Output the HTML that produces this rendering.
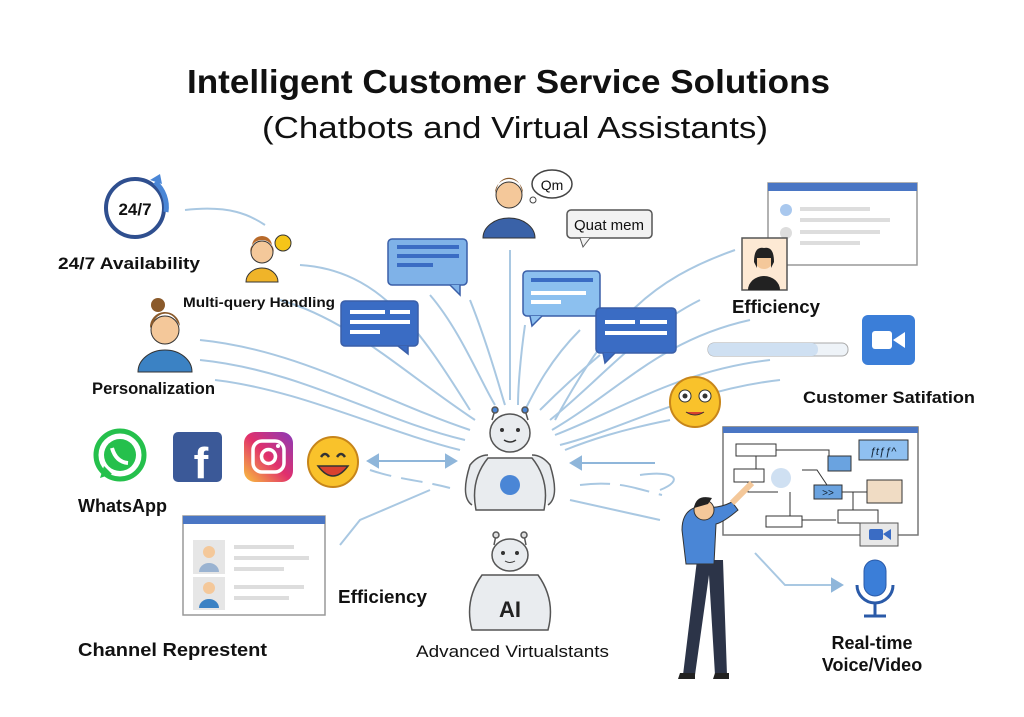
<!DOCTYPE html>
<html><head><meta charset="utf-8"><style>
html,body{margin:0;padding:0;background:#fff;}
svg{display:block;font-family:"Liberation Sans",sans-serif;}
.t{font-weight:bold;fill:#111;}
</style></head><body>
<svg width="1024" height="717" viewBox="0 0 1024 717" xmlns="http://www.w3.org/2000/svg">
<rect width="1024" height="717" fill="#fff"/>
<text x="187" y="93" font-size="33" font-weight="bold" fill="#111" textLength="643" lengthAdjust="spacingAndGlyphs">Intelligent Customer Service Solutions</text>
<text x="262" y="138" font-size="31" fill="#111" textLength="506" lengthAdjust="spacingAndGlyphs">(Chatbots and Virtual Assistants)</text>

<!-- connector lines -->
<g fill="none" stroke="#a9c8e2" stroke-width="2">
<path d="M185 210 C230 205,250 215,265 225"/>
<path d="M300 265 C380 270,420 330,470 410"/>
<path d="M280 300 C350 320,400 370,475 420"/>
<path d="M200 340 C300 350,380 400,470 430"/>
<path d="M200 360 C300 370,380 420,465 440"/>
<path d="M215 380 C300 390,380 430,460 450"/>
<path d="M430 295 C460 330,480 380,495 405"/>
<path d="M470 300 C490 350,500 390,505 405"/>
<path d="M510 250 L510 400"/>
<path d="M525 325 C520 360,518 390,518 405"/>
<path d="M580 330 C550 360,535 390,525 410"/>
<path d="M600 355 C570 380,550 400,540 410"/>
<path d="M735 250 C650 280,610 320,555 420"/>
<path d="M700 300 C640 330,600 380,550 420"/>
<path d="M750 320 C660 340,620 390,552 430"/>
<path d="M770 360 C680 370,620 410,555 435"/>
<path d="M780 380 C690 390,620 430,560 445"/>
<path d="M670 420 C620 430,590 440,565 450"/>
<path d="M370 470 C400 480,420 480,450 488" stroke-dasharray="22 10"/>
<path d="M430 490 L360 520 L340 545"/>
<path d="M580 485 C620 480,640 490,662 495" stroke-dasharray="30 10"/>
<path d="M570 500 L660 520"/>
<path d="M755 553 L785 585 L838 585"/>
<path d="M640 475 C675 470,685 480,660 490"/>
</g>
<g stroke="#8fb6da" stroke-width="2" fill="#8fb6da">
<line x1="372" y1="461" x2="452" y2="461"/>
<path d="M368 461 l10 -6 v12z"/><path d="M456 461 l-10 -6 v12z"/>
<line x1="575" y1="463" x2="655" y2="463"/>
<path d="M571 463 l10 -6 v12z"/>
<path d="M842 585 l-10 -6 v12z"/>
</g>

<!-- clock -->
<circle cx="135" cy="208" r="29" fill="#fff" stroke="#2f4f8f" stroke-width="4"/>
<path d="M155 182 A33 33 0 0 1 166 212" fill="none" stroke="#4a86d6" stroke-width="5"/>
<path d="M150 180 l10 -6 l2 10z" fill="#4a86d6"/>
<text x="135" y="215" text-anchor="middle" font-size="17" font-weight="bold" fill="#111">24/7</text>
<text x="58" y="269" font-size="17" class="t" textLength="142" lengthAdjust="spacingAndGlyphs">24/7 Availability</text>

<!-- girl -->
<circle cx="262" cy="252" r="11" fill="#f4c89a" stroke="#333"/>
<path d="M250 252 a12 12 0 0 1 24 0 l-2 -6 a10 10 0 0 0 -20 0z" fill="#b86a2a"/>
<path d="M246 282 a16 14 0 0 1 32 0z" fill="#f0b429" stroke="#333"/>
<circle cx="283" cy="243" r="8" fill="#f5c518" stroke="#333"/>
<text x="183" y="307" font-size="14" class="t" textLength="152" lengthAdjust="spacingAndGlyphs">Multi-query Handling</text>

<!-- woman -->
<circle cx="165" cy="330" r="14" fill="#f4c89a" stroke="#333"/>
<path d="M150 328 a15 15 0 0 1 30 -2 l-4 -6 a12 12 0 0 0 -22 2z" fill="#8a5a2b"/>
<circle cx="158" cy="305" r="7" fill="#8a5a2b"/>
<path d="M138 372 a27 22 0 0 1 54 0z" fill="#3b82c4" stroke="#333"/>
<text x="92" y="394" font-size="17" class="t" textLength="123" lengthAdjust="spacingAndGlyphs">Personalization</text>

<!-- social icons -->
<circle cx="120" cy="455" r="24" fill="#fff" stroke="#25c04c" stroke-width="5"/>
<path d="M100 478 l4 -12 l8 8z" fill="#25c04c"/>
<circle cx="120" cy="455" r="16" fill="#25c04c"/>
<path d="M112 448 q4 14 16 15" stroke="#fff" stroke-width="4" fill="none"/>
<rect x="173" y="432" width="49" height="50" rx="5" fill="#3b5998"/>
<text x="201" y="478" text-anchor="middle" font-size="44" font-weight="bold" fill="#fff">f</text>
<defs><linearGradient id="ig" x1="0" y1="1" x2="1" y2="0"><stop offset="0" stop-color="#f9c23c"/><stop offset=".5" stop-color="#e1306c"/><stop offset="1" stop-color="#8a3ab9"/></linearGradient></defs>
<rect x="244" y="432" width="49" height="50" rx="11" fill="url(#ig)"/>
<rect x="253" y="441" width="31" height="31" rx="9" fill="none" stroke="#fff" stroke-width="3.5"/>
<circle cx="268.5" cy="456.5" r="7" fill="none" stroke="#fff" stroke-width="3.5"/>
<circle cx="278" cy="446" r="2" fill="#fff"/>
<circle cx="333" cy="462" r="25" fill="#f9c22b" stroke="#c7851a" stroke-width="2"/>
<path d="M321 457 q4 -6 8 0 M337 457 q4 -6 8 0" stroke="#333" stroke-width="2.5" fill="none"/>
<path d="M318 466 q15 20 30 0z" fill="#d9412f" stroke="#333" stroke-width="1.5"/>
<text x="78" y="512" font-size="18" class="t" textLength="89" lengthAdjust="spacingAndGlyphs">WhatsApp</text>

<!-- left browser -->
<rect x="183" y="516" width="142" height="99" fill="#fff" stroke="#999" stroke-width="1.5"/>
<rect x="183" y="516" width="142" height="8" fill="#4a76c4"/>
<rect x="193" y="540" width="32" height="34" fill="#e6e6e6"/>
<rect x="193" y="577" width="32" height="33" fill="#e6e6e6"/>
<circle cx="209" cy="552" r="6" fill="#f4c89a"/><path d="M199 572 a10 9 0 0 1 20 0z" fill="#9ab3d1"/>
<circle cx="209" cy="588" r="6" fill="#f4c89a"/><path d="M199 608 a10 9 0 0 1 20 0z" fill="#3b82c4"/>
<g fill="#ddd"><rect x="234" y="545" width="60" height="4"/><rect x="234" y="556" width="75" height="4"/><rect x="234" y="567" width="50" height="4"/><rect x="234" y="585" width="70" height="4"/><rect x="234" y="596" width="55" height="4"/></g>
<text x="338" y="603" font-size="18" class="t" textLength="89" lengthAdjust="spacingAndGlyphs">Efficiency</text>
<text x="78" y="656" font-size="18" class="t" textLength="189" lengthAdjust="spacingAndGlyphs">Channel Represtent</text>

<!-- top man -->
<circle cx="509" cy="195" r="13" fill="#f4c89a" stroke="#333"/>
<path d="M495 193 a14 14 0 0 1 28 0 l-3 -8 a12 12 0 0 0 -22 0z" fill="#8a5a2b"/>
<path d="M483 238 a26 20 0 0 1 52 0z" fill="#3a62a8" stroke="#333"/>
<ellipse cx="552" cy="184" rx="20" ry="14" fill="#fff" stroke="#444" stroke-width="1.5"/>
<circle cx="533" cy="200" r="3" fill="#fff" stroke="#444"/>
<text x="552" y="190" text-anchor="middle" font-size="14" fill="#111">Qm</text>
<rect x="567" y="210" width="85" height="28" rx="4" fill="#f2f2f2" stroke="#555" stroke-width="1.5"/>
<path d="M580 238 l3 9 l7 -9" fill="#f2f2f2" stroke="#555"/>
<text x="609" y="230" text-anchor="middle" font-size="15" fill="#111">Quat mem</text>

<!-- bubbles -->
<g stroke="#3a5fa8" stroke-width="1.5">
<rect x="388" y="239" width="79" height="46" rx="4" fill="#7fb2e8"/>
<path d="M450 285 l10 10 v-10" fill="#7fb2e8"/>
<rect x="341" y="301" width="77" height="45" rx="4" fill="#3a6cc4"/>
<path d="M398 346 l10 8 v-8" fill="#3a6cc4"/>
<rect x="523" y="271" width="77" height="45" rx="4" fill="#8cc0ef"/>
<path d="M530 316 l2 10 l10 -10" fill="#8cc0ef"/>
<rect x="596" y="308" width="80" height="45" rx="4" fill="#3a6cc4"/>
<path d="M603 353 l2 10 l10 -10" fill="#3a6cc4"/>
</g>
<g fill="#3a6cc4"><rect x="397" y="245" width="62" height="4"/><rect x="397" y="254" width="62" height="4"/><rect x="397" y="263" width="36" height="4"/><rect x="531" y="278" width="62" height="4"/></g>
<g fill="#fff"><rect x="350" y="310" width="35" height="4"/><rect x="390" y="310" width="20" height="4"/><rect x="350" y="320" width="60" height="4"/><rect x="350" y="330" width="30" height="4"/><rect x="531" y="291" width="55" height="4"/><rect x="531" y="300" width="30" height="4"/><rect x="605" y="320" width="30" height="4"/><rect x="640" y="320" width="27" height="4"/><rect x="605" y="331" width="62" height="4"/></g>

<!-- robot 1 -->
<g stroke="#555" stroke-width="1.5">
<line x1="492" y1="420" x2="495" y2="410"/><line x1="528" y1="420" x2="525" y2="410"/>
<circle cx="495" cy="410" r="3" fill="#4a86d6"/><circle cx="525" cy="410" r="3" fill="#4a86d6"/>
<path d="M472 505 q-12 -8 -2 -40 q8 -10 18 -10 M548 505 q12 -8 2 -40 q-8 -10 -18 -10" fill="#e9ecef"/>
<path d="M476 510 q-6 -30 12 -52 h44 q18 22 12 52z" fill="#e9ecef"/>
<ellipse cx="510" cy="433" rx="20" ry="19" fill="#e9ecef"/>
</g>
<circle cx="502" cy="430" r="2" fill="#333"/><circle cx="518" cy="430" r="2" fill="#333"/>
<path d="M504 440 q6 4 12 0" stroke="#333" fill="none" stroke-width="1.5"/>
<circle cx="510" cy="485" r="10" fill="#4a86d6"/>

<!-- robot 2 -->
<g stroke="#555" stroke-width="1.5">
<line x1="494" y1="545" x2="496" y2="535"/><line x1="526" y1="545" x2="524" y2="535"/>
<circle cx="496" cy="535" r="3" fill="#ddd"/><circle cx="524" cy="535" r="3" fill="#ddd"/>
<path d="M472 630 q-8 -30 10 -55 h56 q18 25 10 55z" fill="#e9ecef"/>
<ellipse cx="510" cy="555" rx="18" ry="16" fill="#e9ecef"/>
</g>
<circle cx="503" cy="553" r="2" fill="#333"/><circle cx="517" cy="553" r="2" fill="#333"/>
<path d="M505 561 q5 3 10 0" stroke="#333" fill="none"/>
<text x="510" y="617" text-anchor="middle" font-size="22" font-weight="bold" fill="#222">AI</text>
<text x="416" y="657" font-size="17" fill="#111" textLength="193" lengthAdjust="spacingAndGlyphs">Advanced Virtualstants</text>

<!-- right browser -->
<rect x="768" y="183" width="149" height="82" fill="#fff" stroke="#999" stroke-width="1.5"/>
<rect x="768" y="183" width="149" height="8" fill="#4a76c4"/>
<circle cx="786" cy="210" r="6" fill="#a9c8ee"/><circle cx="786" cy="233" r="6" fill="#ddd"/>
<g fill="#ddd"><rect x="800" y="207" width="70" height="4"/><rect x="800" y="218" width="90" height="4"/><rect x="800" y="230" width="80" height="4"/><rect x="800" y="241" width="60" height="4"/></g>
<rect x="742" y="238" width="45" height="52" fill="#fde9d4" stroke="#555" stroke-width="1.5"/>
<circle cx="764" cy="260" r="9" fill="#f4c89a"/><path d="M754 262 q0 -16 10 -14 q10 -2 10 14 l-3 6 v-10 h-14 v10z" fill="#222"/>
<path d="M748 290 a16 14 0 0 1 32 0z" fill="#222"/>
<text x="732" y="313" font-size="18" class="t" textLength="88" lengthAdjust="spacingAndGlyphs">Efficiency</text>

<rect x="708" y="343" width="140" height="13" rx="6" fill="#eef3f8" stroke="#aaa"/>
<rect x="708" y="343" width="110" height="13" rx="6" fill="#cfe0f2"/>
<rect x="862" y="315" width="53" height="50" rx="6" fill="#3b7ed8"/>
<rect x="872" y="331" width="20" height="18" rx="3" fill="#fff"/>
<path d="M893 340 l12 -8 v16z" fill="#fff"/>
<text x="803" y="403" font-size="17" class="t" textLength="172" lengthAdjust="spacingAndGlyphs">Customer Satifation</text>

<circle cx="695" cy="402" r="25" fill="#f9c22b" stroke="#c7851a" stroke-width="2"/>
<circle cx="685" cy="396" r="6" fill="#fff" stroke="#333"/><circle cx="705" cy="396" r="6" fill="#fff" stroke="#333"/>
<circle cx="685" cy="396" r="2.5" fill="#333"/><circle cx="705" cy="396" r="2.5" fill="#333"/>
<path d="M686 412 q9 6 18 0" stroke="#333" fill="#d9412f"/>

<!-- whiteboard -->
<rect x="723" y="427" width="195" height="108" fill="#fff" stroke="#777" stroke-width="1.5"/>
<rect x="723" y="427" width="195" height="6" fill="#4a76c4"/>
<g fill="#fff" stroke="#333" stroke-width="1">
<rect x="736" y="444" width="40" height="12"/><rect x="734" y="469" width="30" height="13"/>
<rect x="766" y="516" width="36" height="11"/><rect x="838" y="510" width="40" height="13"/>
</g>
<rect x="828" y="456" width="23" height="15" fill="#6aa3e0" stroke="#333"/>
<rect x="814" y="485" width="28" height="14" fill="#6aa3e0" stroke="#333"/>
<text x="828" y="496" text-anchor="middle" font-size="10" fill="#123">&gt;&gt;</text>
<rect x="859" y="440" width="49" height="20" fill="#8fc0f0" stroke="#333"/>
<text x="883" y="455" text-anchor="middle" font-size="11" font-style="italic" fill="#123">ƒtƒƒ^</text>
<rect x="867" y="480" width="35" height="23" fill="#f0dcc4" stroke="#333"/>
<rect x="860" y="523" width="38" height="23" fill="#e8e8e8" stroke="#555"/>
<rect x="869" y="529" width="14" height="11" rx="2" fill="#3a6cc4"/><path d="M883 534 l8 -5 v11z" fill="#3a6cc4"/>
<circle cx="781" cy="478" r="10" fill="#cfe0f2"/>
<g stroke="#333" fill="none" stroke-width="1"><path d="M776 450 h53 v6 M756 456 v13 M748 482 v10 h30 M790 492 v24 M802 520 h34 M802 470 h15 l10 15 M842 492 h25 M853 492 v18"/></g>

<!-- person -->
<path d="M697 560 l-14 115 h12 l14 -100 l6 100 h12 l-4 -115z" fill="#2c3448"/>
<path d="M682 530 q0 -22 20 -24 q14 4 30 -4 l6 8 q-14 12 -22 14 l-2 40 h-28z" fill="#4a86d6" stroke="#333"/>
<path d="M732 503 l20 -20" stroke="#f4c89a" stroke-width="6"/>
<circle cx="704" cy="510" r="10" fill="#f4c89a" stroke="#333"/>
<path d="M694 508 q2 -14 18 -10 l-4 6z" fill="#222"/>
<path d="M680 673 h15 v6 h-17z M715 673 h14 v6 h-16z" fill="#222"/>

<!-- mic -->
<rect x="864" y="560" width="22" height="36" rx="11" fill="#3b7ed8" stroke="#2a5aa8"/>
<path d="M857 585 a18 18 0 0 0 36 0" stroke="#2a5aa8" stroke-width="3" fill="none"/>
<line x1="875" y1="603" x2="875" y2="615" stroke="#2a5aa8" stroke-width="3"/>
<line x1="864" y1="616" x2="886" y2="616" stroke="#2a5aa8" stroke-width="3"/>
<text x="872" y="649" text-anchor="middle" font-size="18" class="t">Real-time</text>
<text x="872" y="671" text-anchor="middle" font-size="18" class="t">Voice/Video</text>
</svg>
</body></html>
